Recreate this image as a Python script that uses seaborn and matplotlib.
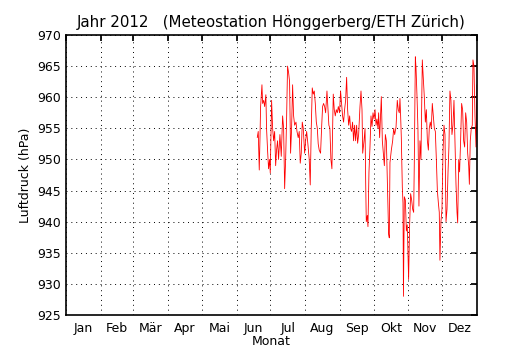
import numpy as np
import pandas as pd
import matplotlib
matplotlib.use("Agg")
import matplotlib.pyplot as plt
import seaborn as sns

# Day of year 2012 and air pressure (hPa)
day = [170.3, 171.2, 172.1, 172.7, 173.3, 174.5, 175.1, 176.0, 176.9, 178.0,
       178.6, 179.5, 180.4, 181.3, 181.9, 183.1, 184.0, 184.9, 185.8, 186.7,
       187.5, 188.4, 189.3, 190.5, 191.7, 192.9, 193.8, 194.7, 195.6, 196.5,
       197.3, 198.2, 199.1, 200.0, 200.9, 201.8, 202.7, 203.6, 204.8, 205.7,
       206.8, 207.7, 208.6, 209.5, 210.4, 211.3, 212.5, 213.4, 214.3, 215.4,
       216.6, 217.5, 218.4, 219.3, 220.2, 221.1, 222.0, 222.9, 223.8, 224.6,
       225.5, 226.7, 227.6, 228.5, 229.4, 230.3, 231.2, 232.4, 233.3, 234.1,
       235.0, 235.9, 236.8, 238.0, 238.9, 239.8, 240.7, 241.6, 242.5, 243.6,
       244.5, 245.4, 246.3, 247.2, 248.1, 249.0, 249.9, 250.8, 251.7, 252.6,
       253.4, 254.3, 255.2, 256.1, 257.0, 257.9, 258.8, 259.7, 260.6,
       261.8, 262.7, 263.6, 264.2, 265.4, 266.3, 266.9, 267.4, 268.3, 268.9,
       269.8, 270.7, 271.6, 272.5, 273.4, 274.3, 275.2, 276.1, 276.9, 277.8,
       278.4, 279.3, 280.8, 281.7, 282.6, 283.5, 284.4, 285.3, 286.1, 287.3,
       287.9, 288.5, 289.7, 290.9, 291.8, 292.7, 293.9, 295.0, 295.9, 296.8,
       297.4, 298.0, 298.6, 299.5, 300.1, 300.5, 301.3, 302.2, 303.1, 303.9,
       305.1, 306.0, 306.9, 307.8, 308.7, 309.6, 310.2, 311.1, 311.7, 312.6,
       313.4, 314.3, 315.2, 316.1, 317.3, 318.2, 319.1, 320.0, 320.9, 321.8,
       322.7, 323.5, 324.4, 325.3, 326.2, 327.1, 328.0, 328.9, 329.8, 330.7,
       331.6, 332.4, 333.0, 333.9, 334.8, 335.7, 336.6, 337.5, 338.4, 339.3,
       340.2, 341.0, 341.9, 342.8, 343.7, 344.6, 345.5, 346.4, 347.3, 348.2,
       348.8, 349.7, 350.5, 351.4, 352.3, 353.2, 354.1, 355.0, 355.9, 356.8,
       357.7, 358.6, 359.2, 360.0, 360.9, 361.8, 362.4, 363.3, 364.2, 365.1,
       366.0]
pressure = [953.5, 954.5, 948.3, 953.0, 958.5, 962.0, 959.0, 959.5, 958.5, 960.4,
            955.0, 951.5, 948.5, 950.0, 947.8, 959.5, 955.0, 953.0, 954.5, 949.0,
            951.5, 953.0, 950.0, 954.0, 950.5, 957.0, 955.0, 945.3, 950.0, 957.0,
            965.0, 964.0, 962.5, 951.0, 955.0, 962.0, 957.0, 955.5, 956.0, 954.5,
            953.5, 954.5, 949.4, 951.0, 956.0, 955.0, 951.0, 953.0, 954.5, 952.5,
            950.0, 945.9, 955.0, 961.5, 960.5, 961.0, 959.0, 956.0, 955.0, 952.5,
            951.5, 951.0, 955.0, 958.5, 959.0, 958.5, 957.5, 961.0, 958.0, 955.5,
            955.0, 950.0, 948.5, 960.5, 958.0, 957.0, 958.0, 957.5, 958.5, 957.5,
            961.0, 959.0, 957.0, 956.0, 958.0, 959.5, 963.2, 958.0, 955.5, 957.0,
            955.0, 954.5, 956.0, 953.0, 955.5, 953.0, 955.5, 952.6, 954.0,
            958.5, 961.0, 958.0, 951.0, 953.0, 955.0, 946.0, 940.0, 941.0, 939.2,
            948.0, 952.0, 957.0, 955.3, 957.5, 956.5, 958.0, 955.5, 956.5, 955.0,
            957.5, 953.5, 960.1, 953.0, 951.0, 949.0, 954.0, 953.0, 947.0, 938.0,
            937.4, 949.5, 951.5, 953.0, 955.0, 954.0, 955.2, 959.5, 958.0, 957.5,
            959.8, 957.0, 953.5, 945.5, 943.0, 928.0, 944.0, 943.5, 938.5, 939.5,
            930.7, 939.5, 944.5, 943.5, 942.0, 941.5, 950.0, 966.5, 964.7, 960.0,
            955.0, 942.5, 953.0, 950.0, 966.0, 963.0, 960.0, 956.0, 958.0, 953.0,
            951.5, 955.0, 956.0, 955.0, 959.0, 957.0, 955.0, 954.5, 950.0, 945.0,
            943.0, 941.5, 933.8, 940.0, 942.0, 951.0, 955.5, 954.0, 940.0, 942.0,
            948.0, 952.0, 961.0, 959.5, 954.0, 955.5, 959.5, 953.0, 946.0, 941.5,
            939.8, 950.0, 948.0, 953.0, 959.0, 958.0, 953.0, 952.0, 957.5, 956.0,
            951.0, 949.0, 946.0, 953.0, 955.0, 955.5, 966.0, 965.0, 957.0, 952.0,
            962.0]

month_starts = [0, 31, 60, 91, 121, 152, 182, 213, 244, 274, 305, 335, 366]
month_labels = ["Jan", "Feb", "Mär", "Apr", "Mai", "Jun", "Jul", "Aug", "Sep",
                "Okt", "Nov", "Dez"]
y_ticks = [925, 930, 935, 940, 945, 950, 955, 960, 965, 970]

sns.set_theme(style="white", rc={"text.color": "black", "axes.labelcolor": "black",
                                 "xtick.color": "black", "ytick.color": "black"})
plt.rcParams["font.family"] = ["DejaVu Sans"]

df = pd.DataFrame({"Tag": day, "Luftdruck": pressure})

fig = plt.figure(figsize=(5.3, 3.5), dpi=100)
ax = fig.add_axes([0.1245, 0.1, 0.7755, 0.8])
sns.lineplot(data=df, x="Tag", y="Luftdruck", ax=ax, color="red",
             linewidth=0.6, estimator=None, sort=False)

ax.set_xlim(0, 366)
ax.set_ylim(925, 970)
ax.set_xticks(month_starts)
ax.set_xticklabels([])
mids = [(month_starts[i] + month_starts[i + 1]) / 2 for i in range(12)]
ax.set_xticks(mids, minor=True)
ax.set_xticklabels(month_labels, minor=True, fontsize=9)
ax.tick_params(axis="x", which="minor", length=0, pad=5)
ax.tick_params(axis="both", which="major", direction="in", length=4,
               top=True, right=True, color="black", labelsize=9)
ax.set_yticks(y_ticks)
ax.grid(True, which="major", color="black", linestyle=(0, (1, 4)), linewidth=0.7)
for s in ax.spines.values():
    s.set_color("black")
    s.set_linewidth(1.2)
ax.set_xlabel("Monat", fontsize=9, labelpad=0)
ax.set_ylabel("Luftdruck (hPa)", fontsize=9)
ax.set_title("Jahr 2012   (Meteostation Hönggerberg/ETH Zürich)", fontsize=10.8,
             color="black")

fig.savefig("out.png", dpi=100)
